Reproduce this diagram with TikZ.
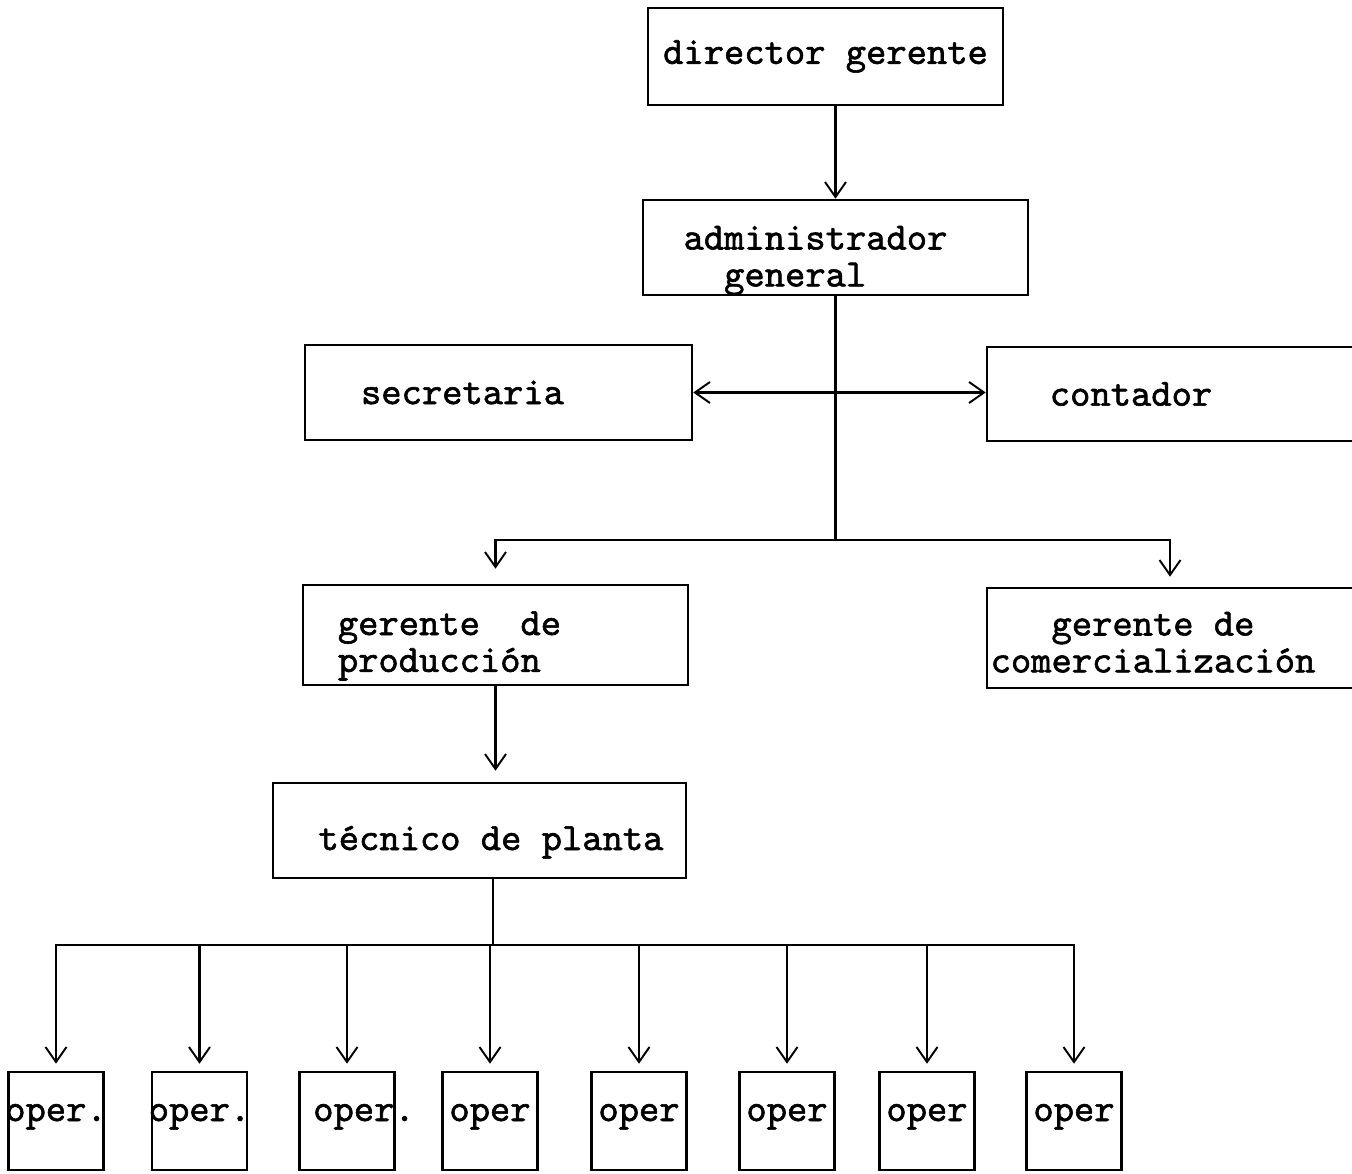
\documentclass[tikz,border=0pt]{standalone}
\usepackage{fontspec}
\newfontfamily\typewriter{lmmono10-regular.otf}[FakeBold=1.5]
\usetikzlibrary{arrows.meta}
\tikzset {
  chart path/.style = {
    draw = black,
    line width = 1.4pt
  },
  % path style with an open arrow at the end
  arr/.style = {
    chart path,
    -{Straight Barb[length=0.3cm, width=0.42cm, line width=1.1pt]},
    shorten > = #1
  },
  arr/.default = 0pt,
  % path style with open arrows at both ends
  darr/.style = {
    chart path,
    {Straight Barb[length=0.3cm, width=0.42cm, line width=1.1pt]}-{Straight Barb[length=0.3cm, width=0.42cm, line width=1.1pt]}
  },
  % path style with no arrows
  narr/.style = {
    chart path
  }
}
\tikzset {
  chart node/.style = {
    draw = black,
    line width = 1.5pt,
    rectangle,
    inner sep = 0,
    font = \typewriter\fontsize{22}{21}\selectfont
  },
  % post in the chart
  post/.style = {
    chart node,
    minimum height = 1.9cm
  },
  % post with two typed lines, first baseline near the middle
  post2/.style = {
    post,
    text height = #1,
    text depth = 0cm
  },
  post2/.default = 0cm,
  % operator in the bottom row
  oper/.style = {
    chart node,
    minimum width = 1.9cm,
    minimum height = 1.96cm,
    text height = 0.3cm,
    text depth = 0.3cm
  }
}

\begin{document}
\begin{tikzpicture}[x=0.02cm, y=-0.02cm]
  \useasboundingbox (0,0) rectangle (1352,1173);

  \node[post, minimum width=7.1cm, minimum height=1.94cm] (director) at (825.5,56.5) {director gerente};
  \node[post2=0.08cm, minimum width=7.7cm] (admin) at (835.5,247.5)
    {\begin{tabular}[t]{@{}l@{}}administrador\hspace*{0.8cm}\\\phantom{ad}general\end{tabular}};
  \node[post, minimum width=7.74cm] (secretaria) at (498.5,392.5) {secretaria\hspace*{1.44cm}};
  \node[post, minimum width=7.86cm, minimum height=1.88cm] (contador) at (1183.5,394) {contador\hspace*{2.1cm}};
  \node[post2, minimum width=7.7cm, minimum height=2cm] (produccion) at (495.5,635)
    {\begin{tabular}[t]{@{}l@{}}gerente\ \ de\hspace*{1.84cm}\\producción\end{tabular}};
  \node[post, minimum width=7.86cm, minimum height=2cm, text height=0cm, text depth=0.1cm] (comercial) at (1183.5,638)
    {\begin{tabular}[t]{@{}c@{}}gerente de\hspace*{1.22cm}\\comercialización\hspace*{1.22cm}\end{tabular}};
  \node[post, minimum width=8.26cm, text height=0.78cm, text depth=0cm] (tecnico) at (479.5,830.5) {\hspace*{0.46cm}técnico de planta};

  \foreach \i/\x/\dx/\txt in {1/56/0/oper., 2/199.5/0/oper., 3/347/0.68/oper., 4/490/0/oper,
                              5/639/0/oper, 6/787/0/oper, 7/927/0/oper, 8/1074/0/oper}
    \node[oper] (oper-\i) at (\x,1121) {\makebox[0pt]{\hspace*{\dx cm}\txt}};

  \coordinate (admin-split) at (835.5,540);
  \coordinate (tecnico-split) at (493,945);

  \draw[arr] (director.south -| admin.north) -- (admin.north);
  \draw[narr] (admin.south) -- (admin-split);
  \draw[darr] (secretaria.east) -- (secretaria.east -| contador.west);
  \draw[arr=0.3cm] (admin-split) -| (produccion.north);
  \draw[arr=0.2cm] (admin-split) -| ([xshift=-0.27cm]comercial.north);
  \draw[arr=0.22cm] (produccion.south) -- (produccion.south |- tecnico.north);
  \draw[narr] (tecnico.south -| tecnico-split) -- (tecnico-split);
  \foreach \i in {1,...,8}
    \draw[arr=0.14cm] (tecnico-split) -| (oper-\i.north);
\end{tikzpicture}
\end{document}
